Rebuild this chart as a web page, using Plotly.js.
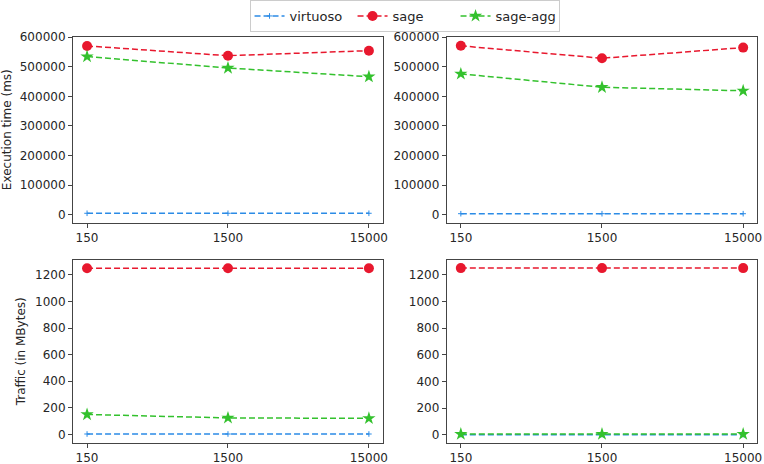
<!DOCTYPE html>
<html>
<head>
<meta charset="utf-8">
<script src="https://cdn.plot.ly/plotly-3.0.1.min.js"></script>
<style>html,body{margin:0;padding:0;background:#fff;}#chart{width:764px;height:464px;}</style>
</head>
<body>
<div id="chart"></div>
<script>
// Categories (x axis)
const categories = ["150", "1500", "15000"];

// Top-left: execution time (ms)
const timeLeftVirtuoso = [4500, 4500, 4500];
const timeLeftSage = [570500, 537600, 554600];
const timeLeftSageAgg = [534500, 496000, 466500];

// Top-right: execution time (ms)
const timeRightVirtuoso = [3500, 3500, 3500];
const timeRightSage = [571000, 529000, 565000];
const timeRightSageAgg = [476000, 431000, 419000];

// Bottom-left: traffic (MBytes)
const trafficLeftVirtuoso = [3, 3, 3];
const trafficLeftSage = [1250, 1250, 1250];
const trafficLeftSageAgg = [150, 124, 121];

// Bottom-right: traffic (MBytes)
const trafficRightVirtuoso = [2, 2, 2];
const trafficRightSage = [1250, 1250, 1250];
const trafficRightSageAgg = [6, 6, 6];

const seriesNames = ["virtuoso", "sage", "sage-agg"];

const styles = {
  "virtuoso": {color: "#2b8be6", symbol: "cross-thin", size: 4, mline: {width: 1, color: "#2b8be6"}},
  "sage": {color: "#e8182e", symbol: "circle", size: 10, mline: {width: 0}},
  "sage-agg": {color: "#33c12d", symbol: "star", size: 10, mline: {width: 0}}
};

function mk(name, y, xa, ya, show) {
  const s = styles[name];
  return {
    x: categories, y: y, name: name, xaxis: xa, yaxis: ya,
    type: "scatter", mode: "lines+markers", showlegend: show, legendgroup: name,
    line: {color: s.color, dash: "6px,3px", width: 1.5},
    marker: {color: s.color, symbol: s.symbol, size: s.size, line: s.mline},
    cliponaxis: false
  };
}

const data = [
  mk("virtuoso", timeLeftVirtuoso, "x", "y", true),
  mk("sage", timeLeftSage, "x", "y", true),
  mk("sage-agg", timeLeftSageAgg, "x", "y", true),
  mk("virtuoso", timeRightVirtuoso, "x2", "y2", false),
  mk("sage", timeRightSage, "x2", "y2", false),
  mk("sage-agg", timeRightSageAgg, "x2", "y2", false),
  mk("virtuoso", trafficLeftVirtuoso, "x3", "y3", false),
  mk("sage", trafficLeftSage, "x3", "y3", false),
  mk("sage-agg", trafficLeftSageAgg, "x3", "y3", false),
  mk("virtuoso", trafficRightVirtuoso, "x4", "y4", false),
  mk("sage", trafficRightSage, "x4", "y4", false),
  mk("sage-agg", trafficRightSageAgg, "x4", "y4", false)
];

const font = {family: "DejaVu Sans, sans-serif", size: 12, color: "#262626"};
const axLine = {showline: true, mirror: true, linecolor: "#444", linewidth: 1, ticks: "outside", ticklen: 4, tickcolor: "#444", showgrid: false, zeroline: false, tickfont: font};

function xax(domain, anchor) {
  return Object.assign({}, axLine, {domain: domain, anchor: anchor, type: "category", range: [-0.1, 2.1]});
}
function yax(domain, anchor, range, dtick, title) {
  const o = Object.assign({}, axLine, {domain: domain, anchor: anchor, range: range, dtick: dtick, tick0: 0, tickformat: "d"});
  if (title) o.title = {text: title, font: font, standoff: 6};
  return o;
}

const xL = [0.0955, 0.5013], xR = [0.5847, 0.9912];
const yT = [0.520, 0.921], yB = [0.046, 0.4397];

const layout = {
  width: 764, height: 464,
  margin: {l: 0, r: 0, t: 0, b: 0},
  paper_bgcolor: "#fff", plot_bgcolor: "#fff",
  font: font,
  showlegend: true,
  legend: {orientation: "h", x: 0.5295, xanchor: "center", y: 1.0, yanchor: "top",
           bordercolor: "#cccccc", borderwidth: 1, font: {family: font.family, size: 13, color: "#262626"},
           tracegroupgap: 0, entrywidth: 58, entrywidthmode: "pixels"},
  xaxis: xax(xL, "y"),
  yaxis: yax(yT, "x", [-27500, 602000], 100000, "Execution time (ms)"),
  xaxis2: xax(xR, "y2"),
  yaxis2: yax(yT, "x2", [-27000, 602000], 100000, null),
  xaxis3: xax(xL, "y3"),
  yaxis3: yax(yB, "x3", [-62, 1312], 200, "Traffic (in MBytes)"),
  xaxis4: xax(xR, "y4"),
  yaxis4: yax(yB, "x4", [-58, 1311], 200, null)
};

Plotly.newPlot("chart", data, layout, {displayModeBar: false, staticPlot: true});
</script>
</body>
</html>
